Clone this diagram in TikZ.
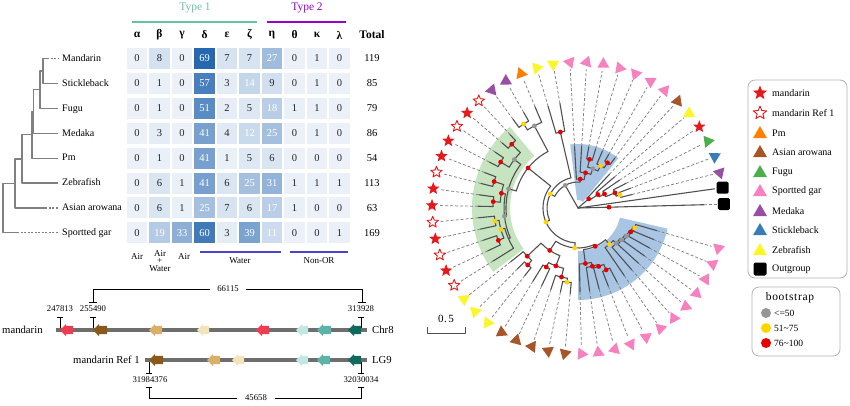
\documentclass[tikz,border=0pt]{standalone}
\usepackage{fontspec}
\setmainfont{Liberation Serif}
\newfontfamily\bsfont[LetterSpace=6]{Liberation Serif}
\usetikzlibrary{shapes.geometric}
\definecolor{cMd}{RGB}{152,78,163}
\definecolor{cSb}{RGB}{55,126,184}
\definecolor{cFu}{RGB}{77,175,74}
\definecolor{cZf}{RGB}{252,246,40}
\definecolor{cAa}{RGB}{166,86,40}
\definecolor{cSg}{RGB}{247,129,191}
\definecolor{cPm}{RGB}{255,127,0}
\definecolor{cStar}{RGB}{228,26,28}
\definecolor{bsGray}{RGB}{150,150,150}
\definecolor{bsYel}{RGB}{255,212,0}
\definecolor{bsRed}{RGB}{232,0,0}
\definecolor{brC}{RGB}{80,80,80}
\definecolor{fanG}{RGB}{198,228,192}
\definecolor{fanB}{RGB}{168,198,228}
\definecolor{tlight}{RGB}{236,241,249}
\definecolor{tdark}{RGB}{38,104,176}
\definecolor{typeA}{RGB}{102,194,165}
\definecolor{typeB}{RGB}{153,0,204}
\definecolor{wline}{RGB}{75,65,205}
\definecolor{gRed}{RGB}{240,60,80}
\definecolor{gBrown}{RGB}{139,90,26}
\definecolor{gTan}{RGB}{217,176,106}
\definecolor{gCream}{RGB}{243,228,190}
\definecolor{gLteal}{RGB}{194,232,226}
\definecolor{gTeal}{RGB}{90,180,168}
\definecolor{gDteal}{RGB}{13,107,93}
\definecolor{chromC}{RGB}{110,110,110}
\definecolor{cladC}{RGB}{128,128,128}
\newcommand{\tArc}[3]{\draw[brn] (#2:#1) arc[start angle=#2, end angle=#3, radius=#1];}
\newcommand{\tRad}[3]{\draw[brn] (#1:#2) -- (#1:#3);}
\newcommand{\tTip}[3]{\draw[brn] (#1:#2) -- (#1:#3); \draw[dsh] (#1:#3) -- (#1:139);}
\newcommand{\tDot}[3]{\fill[#3] (#1:#2) circle[radius=2.4];}
\newcommand{\gene}[4]{\fill[#4] (#1,#3) -- (#1+6,#3-6) -- (#1+6,#3-4.2) -- (#2,#3-4.2) -- (#2,#3+4.2) -- (#1+6,#3+4.2) -- (#1+6,#3+6) -- cycle;}
\begin{document}
\begin{tikzpicture}[x=1pt,y=-1pt,line join=round,
  brn/.style={draw=brC, line width=1.1pt, line cap=round},
  dsh/.style={draw=gray, line width=0.75pt, dash pattern=on 3pt off 2pt},
  tri/.style={regular polygon, regular polygon sides=3, minimum size=14pt, inner sep=0pt},
  starF/.style={star, star points=5, star point ratio=2.3, minimum size=13pt, inner sep=0pt, fill=cStar},
  starH/.style={star, star points=5, star point ratio=2.3, minimum size=12pt, inner sep=0pt, draw=cStar, line width=0.9pt, fill=white},
  sqr/.style={rectangle, minimum size=12pt, inner sep=0pt, fill=black, rounded corners=1.5pt},
  lbl/.style={font=\fontsize{10}{12}\selectfont, inner sep=0pt, text height=1.5ex, text depth=.25ex},
  num/.style={font=\fontsize{10.5}{12}\selectfont, inner sep=0pt},
  hdr/.style={font=\bfseries\fontsize{11.5}{13}\selectfont, inner sep=0pt},
  cell/.style={minimum width=20.5pt, minimum height=21pt, inner sep=0pt, font=\fontsize{10.5}{12}\selectfont},
  small/.style={font=\fontsize{9}{7.6}\selectfont, inner sep=0pt, align=center},
  tiny/.style={font=\fontsize{8.7}{10}\selectfont, inner sep=1pt},
  clad/.style={draw=cladC, line width=1.2pt},
  tk/.style={draw=black, line width=0.7pt},
  chrom/.style={draw=chromC, line width=4.5pt},
  lgbox/.style={draw=black!30, line width=0.8pt, rounded corners=7pt},
  lgt/.style={font=\fontsize{10}{12}\selectfont, inner sep=0pt, anchor=west},
  bsd/.style={circle, minimum size=10pt, inner sep=0pt}]
\useasboundingbox (0,0) rectangle (850,405);

% ---------- cladogram ----------
\coordinate (tM) at (58,58.5);
\coordinate (tS) at (58,83.4);
\coordinate (tF) at (58,108.3);
\coordinate (tMd) at (58,133.2);
\coordinate (tPm) at (58,158.1);
\coordinate (tZ) at (58,183);
\coordinate (tA) at (58,207.9);
\coordinate (tG) at (58,232.8);
\coordinate (n1) at (43,70.95);
\coordinate (n2) at (40,89.6);
\coordinate (n3) at (33.5,111.4);
\coordinate (n4) at (32,134.75);
\coordinate (n5) at (22,158.9);
\coordinate (n6) at (15,183.4);
\coordinate (n0) at (3,208.1);
\coordinate (dM) at (47,58.5);
\coordinate (dA) at (45,207.9);
\coordinate (dG) at (17,232.8);
\draw[clad] (dM) -| (n1) |- (tS);
\draw[clad, dash pattern=on 2pt off 1.5pt] (dM) -- (tM);
\draw[clad] (n1) -| (n2) |- (tF);
\draw[clad] (n2) -| (n3) |- (tMd);
\draw[clad] (n3) -| (n4) |- (tPm);
\draw[clad] (n4) -| (n5) |- (tZ);
\draw[clad] (n5) -| (n6) |- (dA);
\draw[clad, dash pattern=on 2pt off 1.5pt] (dA) -- (tA);
\draw[clad] (n6) -| (n0) |- (dG);
\draw[clad, dash pattern=on 2pt off 1.5pt] (dG) -- (tG);

% ---------- table ----------
\node[font=\fontsize{11.5}{13}\selectfont, text=typeA] (ty1) at (195,8) {Type 1};
\node[font=\fontsize{11.5}{13}\selectfont, text=typeB] (ty2) at (307,8) {Type 2};
\draw[draw=typeA, line width=2.5pt] (132,22) -- (257,22);
\draw[draw=typeB, line width=2.5pt] (267,22) -- (346,22);
\foreach \g [count=\j from 0] in {α,β,γ,δ,ε,ζ,η,θ,κ,λ}{
  \pgfmathsetmacro\cx{137+22.5*\j}
  \node[hdr] (gh\j) at (\cx,35) {\g};
}
\node[hdr] (ghT) at (372,35) {Total};
\foreach \i/\nm/\vals/\tot in {0/Mandarin/{0,8,0,69,7,7,27,0,1,0}/119,
  1/Stickleback/{0,1,0,57,3,14,9,0,1,0}/85,
  2/Fugu/{0,1,0,51,2,5,18,1,1,0}/79,
  3/Medaka/{0,3,0,41,4,12,25,0,1,0}/86,
  4/Pm/{0,1,0,41,1,5,6,0,0,0}/54,
  5/Zebrafish/{0,6,1,41,6,25,31,1,1,1}/113,
  6/Asian arowana/{0,6,1,25,7,6,17,1,0,0}/63,
  7/Sportted gar/{0,19,33,60,3,39,11,0,0,1}/169}{
  \pgfmathsetmacro\ry{58.5+24.9*\i}
  \node[lbl, anchor=west] (sp\i) at (62,\ry) {\nm};
  \node[num] (tot\i) at (372,\ry) {\tot};
  \foreach \v [count=\j from 0] in \vals {
    \pgfmathsetmacro\cx{137+22.5*\j}
    \pgfmathtruncatemacro\pct{round(\v/69*100)}
    \ifnum\v>9 \def\tcol{white}\else\def\tcol{black!85}\fi
    \node[cell, fill=tdark!\pct!tlight, text=\tcol] (c\i-\j) at (\cx,\ry) {\v};
  }
}
\node[small] (bl1) at (137,257) {Air};
\node[small] (bl2) at (160,261) {Air\\+\\Water};
\node[small] (bl3) at (184,257) {Air};
\draw[draw=wline, line width=1.8pt] (200,252) -- (281,252);
\node[small] (bl4) at (240,261) {Water};
\draw[draw=wline, line width=1.8pt] (290,252) -- (348,252);
\node[small] (bl5) at (319,261) {Non-OR};

% ---------- gene map ----------
\draw[tk] (57,317) -- (63,317) (60,317) -- (60,330);
\draw[tk] (90,317) -- (96,317) (93,317) -- (93,330);
\draw[tk] (358,317) -- (364,317) (361,317) -- (361,330);
\draw[tk] (89,302) -- (97,302) (93,302) -- (93,289) -- (362,289) -- (362,302) (358,302) -- (366,302);
\node[tiny, fill=white, inner xsep=7pt] (len1) at (228,289) {66115};
\node[tiny] (p1) at (60,309) {247813};
\node[tiny] (p2) at (93,309) {255490};
\node[tiny] (p3) at (361,309) {313928};
\draw[tk] (149,360) -- (149,373) (146,373) -- (152,373);
\draw[tk] (361,360) -- (361,373) (358,373) -- (364,373);
\draw[tk] (146,387) -- (152,387) (149,387) -- (149,398) -- (361,398) -- (361,387) (358,387) -- (364,387);
\node[tiny, fill=white, inner xsep=8pt] (len2) at (256,398) {45658};
\node[tiny] (p4) at (150,380) {31984376};
\node[tiny] (p5) at (361,380) {32030034};
\node[font=\fontsize{10.7}{12}\selectfont, inner sep=0pt, anchor=west] (chrA) at (2,330) {mandarin};
\node[font=\fontsize{10.7}{12}\selectfont, inner sep=0pt, anchor=west] (chrAn) at (372,330) {Chr8};
\node[font=\fontsize{10.7}{12}\selectfont, inner sep=0pt, anchor=east] (chrB) at (140,360) {mandarin Ref 1};
\node[font=\fontsize{10.7}{12}\selectfont, inner sep=0pt, anchor=west] (chrBn) at (372,360) {LG9};
\draw[chrom] (56,330) -- (367,330);
\draw[chrom] (145,360) -- (367,360);
\gene{60}{73}{330}{gRed}
\gene{93}{107}{330}{gBrown}
\gene{149}{162}{330}{gTan}
\gene{197}{209}{330}{gCream}
\gene{256}{269}{330}{gRed}
\gene{296}{308}{330}{gLteal}
\gene{317}{331}{330}{gTeal}
\gene{348}{361}{330}{gDteal}
\gene{149}{163}{360}{gBrown}
\gene{207}{220}{360}{gTan}
\gene{232}{244}{360}{gCream}
\gene{296}{308}{360}{gLteal}
\gene{317}{330}{360}{gTeal}
\gene{348}{361}{360}{gDteal}

% ---------- circular tree ----------
\begin{scope}[shift={(578,208)}, y=1pt]
\fill[fanB] (51:8) arc[start angle=51, end angle=97, radius=8] -- (97:64) arc[start angle=97, end angle=51, radius=64] -- cycle;
\fill[fanG] (130:68) arc[start angle=130, end angle=217, radius=68] -- (217:106) arc[start angle=217, end angle=130, radius=106] -- cycle;
\fill[fanB] (270:43) arc[start angle=270, end angle=347, radius=43] -- (347:92) arc[start angle=347, end angle=270, radius=92] -- cycle;
% outgroup
\tTip{1.5}{0}{126}
\draw[brn] (8:0) -- (8:138);
% small right clade
\tRad{40.6}{0}{14} \tArc{14}{34.2}{47} \tTip{47}{14}{46}
\tRad{34.2}{14}{24} \tArc{24}{28}{40.4} \tTip{40.4}{24}{48}
\tRad{28}{24}{30} \tArc{30}{22.25}{33.8} \tTip{33.8}{30}{50}
\tRad{22.25}{30}{40} \tArc{40}{17.3}{27.2} \tTip{27.2}{40}{54}
\tRad{17.3}{40}{44} \tArc{44}{14}{20.6} \tTip{14}{44}{56} \tTip{20.6}{44}{56}
% backbone
\tRad{119.4}{0}{26} \tArc{26}{85.6}{153.2}
% upper blue clade
\tRad{85.6}{26}{29} \tArc{29}{77.95}{93.2} \tTip{93.2}{29}{62}
\tRad{77.95}{29}{36} \tArc{36}{69.3}{86.6} \tTip{86.6}{36}{62}
\tRad{69.3}{36}{42} \tArc{42}{61.85}{76.7}
\tRad{76.7}{42}{50} \tArc{50}{73.4}{80} \tTip{73.4}{50}{62} \tTip{80}{50}{62}
\tRad{61.85}{42}{48} \tArc{48}{56.9}{66.8} \tTip{66.8}{48}{62}
\tRad{56.9}{48}{54} \tArc{54}{53.6}{60.2} \tTip{53.6}{54}{62} \tTip{60.2}{54}{62}
% B2
\tRad{153.2}{26}{31} \tArc{31}{103.1}{203.3}
\tRad{103.1}{31}{78} \tArc{78}{99.8}{106.4} \tTip{99.8}{78}{106} \tTip{106.4}{78}{106}
% B3
\tRad{203.3}{31}{35} \tArc{35}{141.25}{265.3}
\tRad{141.25}{35}{64} \tArc{64}{117.95}{164.55}
\tRad{117.95}{64}{93} \tArc{93}{113}{122.9} \tTip{113}{93}{110}
\tRad{122.9}{93}{100} \tArc{100}{119.6}{126.2} \tTip{119.6}{100}{110} \tTip{126.2}{100}{110}
% green clade
\tRad{164.55}{64}{72} \tArc{72}{142.7}{186.4}
\tRad{142.7}{72}{80} \tArc{80}{136.1}{149.3}
\tRad{136.1}{80}{92} \tArc{92}{132.8}{139.4} \tTip{132.8}{92}{100} \tTip{139.4}{92}{100}
\tRad{149.3}{80}{90} \tArc{90}{146}{152.6} \tTip{146}{90}{100} \tTip{152.6}{90}{100}
\tRad{186.4}{72}{74} \tArc{74}{169.1}{203.75}
\tRad{169.1}{74}{78} \tArc{78}{162.5}{175.7}
\tRad{162.5}{78}{88} \tArc{88}{159.2}{165.8} \tTip{159.2}{88}{100} \tTip{165.8}{88}{100}
\tRad{175.7}{78}{85} \tArc{85}{172.4}{179} \tTip{172.4}{85}{100} \tTip{179}{85}{100}
\tRad{203.75}{74}{76} \tArc{76}{195.5}{212} \tTip{212}{76}{100}
\tRad{195.5}{76}{80} \tArc{80}{188.9}{202.1}
\tRad{188.9}{80}{84} \tArc{84}{185.6}{192.2} \tTip{185.6}{84}{100} \tTip{192.2}{84}{100}
\tRad{202.1}{80}{86} \tArc{86}{198.8}{205.4} \tTip{198.8}{86}{100} \tTip{205.4}{86}{100}
% B4
\tRad{265.3}{35}{40} \tArc{40}{236.3}{294.25}
\tRad{236.3}{40}{51} \tArc{51}{223.55}{249.1}
\tRad{223.55}{51}{70} \tArc{70}{218.6}{228.5} \tTip{218.6}{70}{86}
\tRad{228.5}{70}{76} \tArc{76}{225.2}{231.8} \tTip{225.2}{76}{86} \tTip{231.8}{76}{86}
\tRad{249.1}{51}{62} \tArc{62}{241.7}{256.55}
\tRad{241.7}{62}{67} \tArc{67}{238.4}{245} \tTip{238.4}{67}{86} \tTip{245}{67}{86}
\tRad{256.55}{62}{71} \tArc{71}{251.6}{261.5} \tTip{251.6}{71}{86}
\tRad{261.5}{71}{75} \tArc{75}{258.2}{264.8} \tTip{258.2}{75}{86} \tTip{264.8}{75}{86}
% lower blue clade
\tRad{294.25}{40}{42} \tArc{42}{277.6}{310.9}
\tRad{277.6}{42}{56} \tArc{56}{271.4}{283.8} \tTip{271.4}{56}{84}
\tRad{283.8}{56}{60} \tArc{60}{278}{289.55} \tTip{278}{60}{84}
\tRad{289.55}{60}{62} \tArc{62}{284.6}{294.5} \tTip{284.6}{62}{84}
\tRad{294.5}{62}{68} \tArc{68}{291.2}{297.8} \tTip{291.2}{68}{84} \tTip{297.8}{68}{84}
\tRad{310.9}{42}{48} \tArc{48}{304.4}{317.4} \tTip{304.4}{48}{82}
\tRad{317.4}{48}{52} \tArc{52}{311}{323.8} \tTip{311}{52}{82}
\tRad{323.8}{52}{54} \tArc{54}{317.6}{330} \tTip{317.6}{54}{82}
\tRad{330}{54}{56} \tArc{56}{324.2}{335.75} \tTip{324.2}{56}{82}
\tRad{335.75}{56}{58} \tArc{58}{330.8}{340.7} \tTip{330.8}{58}{82}
\tRad{340.7}{58}{60} \tArc{60}{337.4}{344} \tTip{337.4}{60}{82} \tTip{344}{60}{82}
% bootstrap dots
\tDot{1.5}{31}{bsRed} \tDot{40.6}{14}{bsRed} \tDot{34.2}{24}{bsRed} \tDot{28}{30}{bsRed}
\tDot{22.25}{40}{bsRed} \tDot{17.3}{44}{bsYel} \tDot{119.4}{26}{bsGray}
\tDot{85.6}{29}{bsRed} \tDot{77.95}{36}{bsRed} \tDot{69.3}{42}{bsGray} \tDot{76.7}{50}{bsRed}
\tDot{61.85}{48}{bsYel} \tDot{56.9}{54}{bsRed} \tDot{153.2}{31}{bsYel} \tDot{103.1}{78}{bsRed}
\tDot{203.3}{35}{bsYel} \tDot{141.25}{64}{bsRed} \tDot{117.95}{93}{bsGray} \tDot{122.9}{100}{bsYel}
\tDot{164.55}{72}{bsGray} \tDot{142.7}{80}{bsGray} \tDot{136.1}{92}{bsRed} \tDot{149.3}{90}{bsRed}
\tDot{186.4}{74}{bsGray} \tDot{169.1}{78}{bsRed} \tDot{162.5}{88}{bsRed} \tDot{175.7}{85}{bsRed}
\tDot{195.5}{80}{bsYel} \tDot{188.9}{84}{bsYel} \tDot{202.1}{86}{bsRed} \tDot{265.3}{40}{bsYel}
\tDot{236.3}{51}{bsRed} \tDot{223.55}{70}{bsRed} \tDot{228.5}{76}{bsRed} \tDot{249.1}{62}{bsRed}
\tDot{241.7}{67}{bsRed} \tDot{256.55}{71}{bsRed} \tDot{261.5}{75}{bsYel} \tDot{294.25}{42}{bsRed}
\tDot{277.6}{56}{bsRed} \tDot{283.8}{60}{bsRed} \tDot{289.55}{62}{bsRed} \tDot{294.5}{68}{bsRed}
\tDot{310.9}{48}{bsYel} \tDot{317.4}{52}{bsGray} \tDot{323.8}{54}{bsGray} \tDot{330}{56}{bsGray}
\tDot{335.75}{58}{bsRed} \tDot{340.7}{60}{bsYel}
% tip markers
\node[sqr] (sq1) at (1.5:146) {};
\node[sqr] (sq2) at (8:146) {};
\foreach \k/\c in {0/cMd,1/cSb,2/cFu,4/cZf,5/cAa,6/cSg,7/cSg,8/cSg,9/cSg,10/cSg,11/cSg,12/cSg,
  13/cZf,14/cZf,15/cPm,16/cMd,17/cMd,31/cZf,32/cZf,33/cZf,34/cAa,35/cAa,36/cAa,37/cAa,38/cAa,
  39/cSg,40/cSg,41/cSg,42/cSg,43/cSg,44/cSg,45/cSg,46/cSg,47/cSg,48/cSg,49/cSg,50/cSg}{
  \pgfmathsetmacro\ta{14+6.6*\k}
  \pgfmathsetmacro\tr{-3*\ta}
  \node[tri, fill=\c, rotate=\tr] (tip\k) at (\ta:146) {};
}
\foreach \k/\s in {3/starF,18/starH,19/starF,20/starH,21/starF,22/starF,23/starH,24/starF,
  25/starF,26/starH,27/starF,28/starH,29/starF,30/starH}{
  \pgfmathsetmacro\ta{14+6.6*\k}
  \node[\s] (tip\k) at (\ta:146) {};
}
\end{scope}

% scale bar
\draw[draw=brC, line width=1pt] (427,327) -- (427,333) -- (465,333) -- (465,327);
\node[font=\bsfont\fontsize{11}{12}\selectfont, inner sep=0pt] (scl) at (446,319) {0.\hspace{1.5pt}5};

% ---------- legends ----------
\draw[lgbox] (748,80) rectangle (847,278);
\node[starF, minimum size=15pt] (lm1) at (760,93) {};
\node[starH, minimum size=14pt] (lm2) at (760,113) {};
\node[tri, fill=cPm, minimum size=16pt] (lm3) at (760,134) {};
\node[tri, fill=cAa, minimum size=16pt] (lm4) at (760,153) {};
\node[tri, fill=cFu, minimum size=16pt] (lm5) at (760,173) {};
\node[tri, fill=cSg, minimum size=16pt] (lm6) at (760,192) {};
\node[tri, fill=cMd, minimum size=16pt] (lm7) at (760,212) {};
\node[tri, fill=cSb, minimum size=16pt] (lm8) at (760,231) {};
\node[tri, fill=cZf, minimum size=16pt] (lm9) at (760,251) {};
\node[sqr, minimum size=13pt] (lm10) at (760,269) {};
\node[lgt] (lt1) at (772,93) {mandarin};
\node[lgt] (lt2) at (772,113) {mandarin Ref 1};
\node[lgt] (lt3) at (772,133) {Pm};
\node[lgt] (lt4) at (772,152) {Asian arowana};
\node[lgt] (lt5) at (772,172) {Fugu};
\node[lgt] (lt6) at (772,191) {Sportted gar};
\node[lgt] (lt7) at (772,211) {Medaka};
\node[lgt] (lt8) at (772,230) {Stickleback};
\node[lgt] (lt9) at (772,250) {Zebrafish};
\node[lgt] (lt10) at (772,269) {Outgroup};

\draw[lgbox] (752,287) rectangle (840,356);
\node[font=\bsfont\fontsize{11.5}{13}\selectfont, inner sep=0pt] (bst) at (790,298) {bootstrap};
\node[bsd, fill=bsGray] (bd1) at (766,313) {};
\node[bsd, fill=bsYel] (bd2) at (766,328) {};
\node[bsd, fill=bsRed] (bd3) at (766,343) {};
\node[lgt, font=\fontsize{9.5}{11}\selectfont] (bt1) at (774,313) {<=50};
\node[lgt, font=\fontsize{9.5}{11}\selectfont] (bt2) at (774,328) {51\textasciitilde75};
\node[lgt, font=\fontsize{9.5}{11}\selectfont] (bt3) at (774,343) {76\textasciitilde100};
\end{tikzpicture}
\end{document}
